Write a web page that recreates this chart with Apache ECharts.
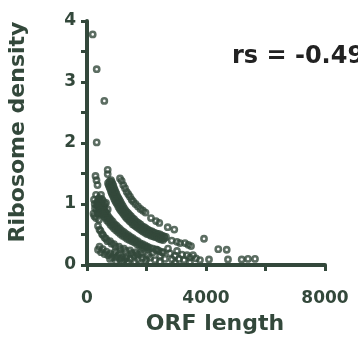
<!DOCTYPE html>
<html>
<head>
<meta charset="UTF-8">
<title>Ribosome density vs ORF length</title>
<script src="https://cdn.jsdelivr.net/npm/echarts@6/dist/echarts.min.js"></script>
<style>
  html, body { margin: 0; padding: 0; background: #fff; }
  #main { width: 358px; height: 337px; }
</style>
</head>
<body>
<div id="main"></div>
<script>
// points: [ORF length, ribosome density]
var outliers = [
  [192, 3.78], [326, 3.21], [582, 2.69], [326, 2.01],
  [286, 1.46], [319, 1.39], [353, 1.31], [696, 1.56], [696, 1.49],
  [3933, 0.43], [4413, 0.26], [4696, 0.25]
];
var clusterLeft = [
  [303, 1.15], [403, 1.10], [471, 1.15], [235, 1.07], [336, 1.03], [437, 1.02],
  [538, 1.05], [639, 1.02], [471, 0.93], [571, 0.97], [696, 0.91], [360, 0.85],
  [528, 0.83], [269, 0.93], [218, 0.84], [303, 0.77], [403, 0.74], [605, 0.87],
  [260, 1.00], [380, 0.97], [500, 1.08], [600, 1.00], [330, 0.90], [450, 0.86],
  [250, 0.80], [560, 0.92]
];
var bandA = [
  [1109, 1.42], [1166, 1.38], [1220, 1.31], [1277, 1.26], [1334, 1.20], [1388, 1.16],
  [1445, 1.12], [1503, 1.07], [1556, 1.04], [1630, 1.00], [1714, 0.96], [1798, 0.92],
  [1882, 0.89], [1966, 0.86], [2151, 0.77], [2319, 0.72], [2430, 0.69], [2713, 0.62],
  [2934, 0.58]
];
var bandBOuter = [
  [807, 1.39], [832, 1.36], [857, 1.33], [883, 1.30], [908, 1.26], [933, 1.23],
  [958, 1.20], [988, 1.17], [1018, 1.13], [1052, 1.10], [1086, 1.07], [1123, 1.04],
  [1160, 1.00], [1202, 0.97], [1244, 0.93], [1289, 0.90], [1334, 0.87], [1382, 0.85],
  [1429, 0.82], [1479, 0.80], [1529, 0.77], [1583, 0.75], [1637, 0.72], [1693, 0.70],
  [1748, 0.68], [1807, 0.66], [1866, 0.63], [1925, 0.62], [1983, 0.60], [2050, 0.58],
  [2118, 0.56], [2185, 0.55], [2252, 0.53], [2320, 0.52], [2387, 0.51], [2454, 0.50],
  [2521, 0.48], [2588, 0.47], [2655, 0.46]
];
var bandBMid = [
  [757, 1.37], [807, 1.30], [858, 1.24], [908, 1.17], [968, 1.11], [1036, 1.04],
  [1110, 0.98], [1194, 0.91], [1284, 0.85], [1379, 0.79], [1479, 0.75], [1587, 0.70],
  [1698, 0.65], [1816, 0.61], [1933, 0.58], [2068, 0.54], [2202, 0.51], [2337, 0.48],
  [2471, 0.46], [2605, 0.44]
];
var bandBInner = [
  [706, 1.34], [731, 1.31], [756, 1.28], [782, 1.25], [807, 1.21], [832, 1.18],
  [857, 1.15], [888, 1.12], [918, 1.08], [952, 1.05], [985, 1.02], [1022, 0.99],
  [1059, 0.95], [1101, 0.92], [1143, 0.89], [1189, 0.86], [1234, 0.83], [1281, 0.80],
  [1328, 0.77], [1379, 0.75], [1429, 0.72], [1483, 0.70], [1536, 0.67], [1592, 0.65],
  [1647, 0.63], [1706, 0.61], [1765, 0.59], [1824, 0.57], [1882, 0.55], [1950, 0.53],
  [2017, 0.51], [2084, 0.50], [2151, 0.48], [2219, 0.47], [2286, 0.46], [2353, 0.45],
  [2420, 0.43], [2488, 0.42], [2555, 0.41]
];
var bandBTail = [
  [2847, 0.40], [3025, 0.38], [3126, 0.36], [3294, 0.36], [3405, 0.33], [3496, 0.31]
];
var bandCOuter = [
  [403, 1.07], [437, 1.04], [471, 1.00], [505, 0.97], [538, 0.93], [580, 0.90],
  [622, 0.87], [664, 0.84], [706, 0.80], [757, 0.77], [807, 0.74], [866, 0.71],
  [924, 0.67], [983, 0.65], [1042, 0.62], [1109, 0.59], [1176, 0.56], [1244, 0.54],
  [1311, 0.51], [1387, 0.49], [1462, 0.46], [1538, 0.44], [1613, 0.41], [1698, 0.39],
  [1782, 0.36], [1866, 0.34], [1950, 0.32], [2034, 0.30], [2118, 0.28], [2219, 0.27],
  [2319, 0.25], [2420, 0.23], [2521, 0.21]
];
var bandCMid = [
  [370, 1.03], [437, 0.97], [513, 0.90], [597, 0.84], [689, 0.77], [799, 0.70],
  [916, 0.64], [1042, 0.58], [1185, 0.52], [1328, 0.47], [1488, 0.43], [1647, 0.38],
  [1816, 0.33], [2000, 0.29]
];
var bandCInner = [
  [336, 0.98], [370, 0.96], [403, 0.93], [445, 0.90], [487, 0.86], [529, 0.83],
  [571, 0.80], [622, 0.77], [672, 0.73], [731, 0.70], [790, 0.66], [849, 0.63],
  [908, 0.60], [975, 0.57], [1042, 0.54], [1118, 0.51], [1193, 0.48], [1269, 0.46],
  [1345, 0.43], [1429, 0.41], [1513, 0.39], [1597, 0.37], [1681, 0.34], [1765, 0.32],
  [1849, 0.30], [1950, 0.28], [2050, 0.26]
];
var bandD = [
  [370, 0.64], [454, 0.56], [538, 0.49], [639, 0.43], [773, 0.39], [908, 0.34],
  [1076, 0.30], [1244, 0.27], [1445, 0.24], [1647, 0.21], [1849, 0.18], [2050, 0.16],
  [420, 0.58], [505, 0.51], [590, 0.45], [690, 0.39], [825, 0.35], [960, 0.30],
  [1130, 0.26], [1300, 0.23], [1500, 0.20], [1700, 0.17]
];
var bandE = [
  [370, 0.25], [471, 0.21], [588, 0.18], [706, 0.16], [840, 0.13], [975, 0.12],
  [1109, 0.10], [1244, 0.08],
  [420, 0.30], [530, 0.26], [650, 0.22], [780, 0.19], [900, 0.17], [1040, 0.15],
  [1180, 0.13], [1320, 0.11]
];
var bottomScatter = [
  [1311, 0.13], [1445, 0.10], [1580, 0.15], [1714, 0.09], [1849, 0.12], [1983, 0.08],
  [2118, 0.12], [2218, 0.21], [2286, 0.08], [2353, 0.25], [2454, 0.15], [2555, 0.21],
  [2622, 0.10], [2723, 0.27], [2790, 0.19], [2857, 0.09], [2958, 0.15], [3025, 0.23],
  [3092, 0.10], [3193, 0.17], [3261, 0.08], [3361, 0.16], [3462, 0.12], [3563, 0.16],
  [3664, 0.11], [3798, 0.08], [4101, 0.09], [4739, 0.09], [5200, 0.09], [5412, 0.10],
  [5647, 0.10], [1613, 0.05], [1950, 0.04], [2454, 0.05], [2958, 0.04], [3462, 0.05],
  [941, 0.21], [1109, 0.18], [773, 0.10], [975, 0.06], [1176, 0.05], [1378, 0.05],
  [1782, 0.20], [1513, 0.18]
];
var xTickLabels = [0, 4000, 8000];
var yTickLabels = [0, 1, 2, 3, 4];

var ink = '#33483b';
var font = 'DejaVu Sans';

var allPoints = [].concat(outliers, clusterLeft, bandA, bandBOuter, bandBMid, bandBInner,
  bandBTail, bandCOuter, bandCMid, bandCInner, bandD, bandE, bottomScatter);

var myChart = echarts.init(document.getElementById('main'), null, { renderer: 'canvas' });
myChart.setOption({
  animation: false,
  backgroundColor: '#fff',
  grid: { left: 87, right: 33, top: 21, bottom: 72 },
  xAxis: {
    type: 'value',
    min: 0, max: 8000, interval: 2000,
    axisLine: { show: true, onZero: false, lineStyle: { color: ink, width: 4 } },
    axisTick: { show: true, length: 6, lineStyle: { color: ink, width: 3 } },
    splitLine: { show: false },
    axisLabel: {
      margin: 25, color: ink, fontFamily: font, fontWeight: 'bold', fontSize: 17,
      formatter: function (v) { return xTickLabels.indexOf(v) >= 0 ? String(v) : ''; }
    }
  },
  yAxis: {
    type: 'value',
    min: 0, max: 4, interval: 0.5,
    axisLine: { show: true, onZero: false, lineStyle: { color: ink, width: 4 } },
    axisTick: { show: true, length: 6, lineStyle: { color: ink, width: 3 } },
    splitLine: { show: false },
    axisLabel: {
      margin: 11, color: ink, fontFamily: font, fontWeight: 'bold', fontSize: 17,
      formatter: function (v) { return yTickLabels.indexOf(v) >= 0 ? String(v) : ''; }
    }
  },
  graphic: [
    {
      type: 'text', x: 232, y: 57,
      style: { text: 'rs = -0.49', fill: '#222', font: 'bold 24px "DejaVu Sans"', verticalAlign: 'middle' }
    },
    {
      type: 'text', x: 215, y: 324,
      style: { text: 'ORF length', fill: ink, font: 'bold 22px "DejaVu Sans"', align: 'center', verticalAlign: 'middle' }
    },
    {
      type: 'text', x: 18, y: 132, rotation: Math.PI / 2,
      style: { text: 'Ribosome density', fill: ink, font: 'bold 22px "DejaVu Sans"', align: 'center', verticalAlign: 'middle' }
    }
  ],
  series: [{
    type: 'scatter',
    symbol: 'circle',
    symbolSize: 5.2,
    itemStyle: { color: 'rgba(0,0,0,0)', borderColor: ink, borderWidth: 2.6 },
    data: allPoints
  }]
});
</script>
</body>
</html>
